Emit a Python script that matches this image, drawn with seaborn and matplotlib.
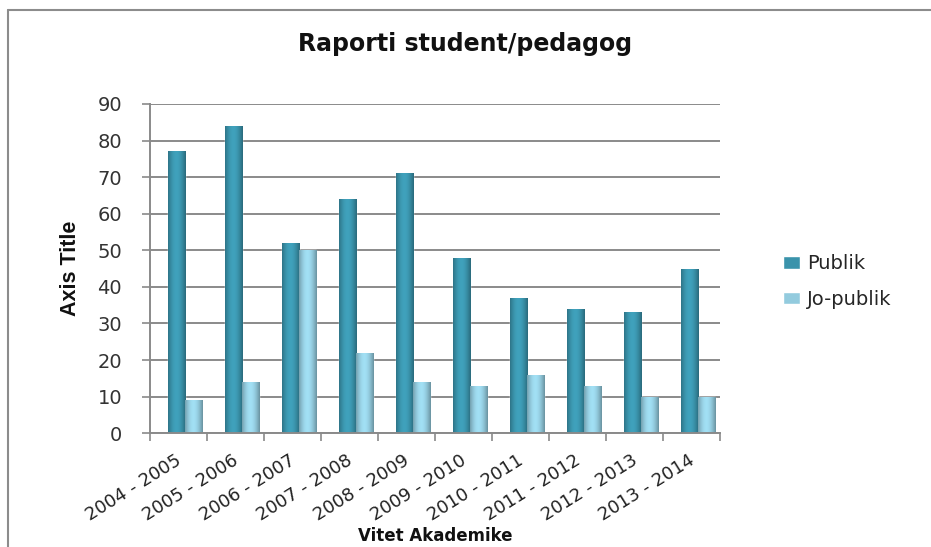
import numpy as np
import pandas as pd
import matplotlib
matplotlib.use("Agg")
import matplotlib.pyplot as plt
import matplotlib.transforms as mtransforms
from matplotlib.lines import Line2D
import seaborn as sns

years = ["2004 - 2005", "2005 - 2006", "2006 - 2007", "2007 - 2008", "2008 - 2009",
         "2009 - 2010", "2010 - 2011", "2011 - 2012", "2012 - 2013", "2013 - 2014"]
publik = [77, 84, 52, 64, 71, 48, 37, 34, 33, 45]
jo_publik = [9, 14, 50, 22, 14, 13, 16, 13, 10, 10]
series_names = ["Publik", "Jo-publik"]
colors = ["#3a93ab", "#93cbde"]

df = pd.DataFrame({
    "Viti": years * 2,
    "Raporti": publik + jo_publik,
    "Sektori": [series_names[0]] * len(years) + [series_names[1]] * len(years),
})

sns.set_theme(style="white")
plt.rcParams["font.family"] = ["DejaVu Sans"]

fig = plt.figure(figsize=(9.31, 5.47), dpi=100)
ax = fig.add_axes([0.161, 0.208, 0.612, 0.602])

sns.barplot(data=df, x="Viti", y="Raporti", hue="Sektori", palette=colors,
            width=0.6, saturation=1, ax=ax, legend=True)

# small rightward offset of the bars, giving a sense of depth
depth = mtransforms.ScaledTranslation(0.07, 0, fig.dpi_scale_trans)

# cylinder-like shading on each bar
grad = np.linspace(0, 1, 64)
shade = 0.65 + 0.45 * np.sin(np.pi * (grad * 0.85 + 0.1))
for patch in list(ax.patches):
    x0, y0 = patch.get_x(), patch.get_y()
    w, h = patch.get_width(), patch.get_height()
    if h <= 0:
        continue
    patch.set_transform(ax.transData + depth)
    base = np.array(matplotlib.colors.to_rgb(patch.get_facecolor()))
    img = np.clip(base[None, None, :] * shade[None, :, None], 0, 1)
    im = ax.imshow(img, extent=[x0, x0 + w, y0, y0 + h], aspect="auto",
                   zorder=patch.get_zorder() + 0.1, interpolation="bilinear")
    im.set_transform(ax.transData + depth)
    im.set_clip_path(patch)

ax.set_xlim(-0.5, 9.5)
ax.set_ylim(0, 90)
ax.set_yticks(range(0, 91, 10))
ax.yaxis.grid(True, color="#8a8a8a", linewidth=1.4)
ax.set_axisbelow(True)
for side in ["top", "right"]:
    ax.spines[side].set_visible(False)
for side in ["left", "bottom"]:
    ax.spines[side].set_color("#8a8a8a")
    ax.spines[side].set_linewidth(1.4)

ax.tick_params(axis="y", which="both", left=True, length=6, width=1.2,
               color="#8a8a8a", labelsize=14, pad=14, labelcolor="#333333")
ax.set_xticks(range(len(years)))
ax.set_xticklabels(years, rotation=32, ha="right", rotation_mode="anchor")
ax.set_xticks(np.arange(-0.5, 10, 1), minor=True)
ax.tick_params(axis="x", which="major", length=0, labelsize=13,
               labelcolor="#222222", pad=13)
ax.tick_params(axis="x", which="minor", bottom=True, length=6, width=1.2, color="#8a8a8a")
for lbl in ax.get_xticklabels():
    lbl.set_transform(lbl.get_transform() + mtransforms.ScaledTranslation(-0.03, 0, fig.dpi_scale_trans))

ax.set_xlabel("Vitet Akademike", fontsize=12, fontweight="bold", labelpad=2, color="#111111")
ax.set_ylabel("Axis Title", fontsize=15.5, fontweight="bold", labelpad=12, color="#111111",
              family=["Liberation Sans", "DejaVu Sans"])
fig.suptitle("Raporti student/pedagog", x=0.5, y=0.942, fontsize=17,
             fontweight="bold", color="#111111")

handles, labels = ax.get_legend_handles_labels()
ax.legend(handles, labels, loc="center left", bbox_to_anchor=(1.08, 0.46),
          frameon=False, fontsize=14, handlelength=0.9, handleheight=0.6,
          labelspacing=0.85, handletextpad=0.35)

# chart area border along the top and left edges
fig.add_artist(Line2D([8 / 931, 1.0], [1 - 10 / 547, 1 - 10 / 547],
                      transform=fig.transFigure, color="#8c8c8c", linewidth=1.5))
fig.add_artist(Line2D([8 / 931, 8 / 931], [0.0, 1 - 10 / 547],
                      transform=fig.transFigure, color="#8c8c8c", linewidth=1.5))

fig.savefig("out.png", dpi=100)
